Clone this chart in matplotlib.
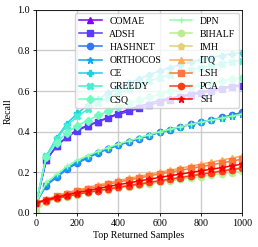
import numpy as np
import matplotlib.pyplot as plt

plt.rcParams['font.family'] = ['Liberation Serif', 'DejaVu Serif']

x = [1, 50, 100, 150, 200, 250, 300, 350, 400, 450, 500,
     550, 600, 650, 700, 750, 800, 850, 900, 950, 1000]

methods = ['COMAE', 'ADSH', 'HASHNET', 'ORTHOCOS', 'CE', 'GREEDY', 'CSQ',
           'DPN', 'BIHALF', 'IMH', 'ITQ', 'LSH', 'PCA', 'SH']
markers = ['^', 's', 'o', '*', 'P', 'X', 'D', '+', 'o', 'p', '^', 's', 'o', '*']

comae = [0.05, 0.26, 0.33, 0.375, 0.41, 0.43, 0.45, 0.47, 0.49, 0.51, 0.525,
         0.54, 0.555, 0.565, 0.575, 0.585, 0.595, 0.605, 0.615, 0.625, 0.63]
adsh = [0.05, 0.26, 0.33, 0.372, 0.405, 0.428, 0.448, 0.468, 0.485, 0.50, 0.515,
        0.53, 0.545, 0.558, 0.57, 0.58, 0.59, 0.60, 0.61, 0.62, 0.625]
hashnet = [0.05, 0.135, 0.175, 0.215, 0.245, 0.27, 0.295, 0.315, 0.333, 0.35, 0.365,
           0.38, 0.398, 0.41, 0.425, 0.436, 0.447, 0.458, 0.47, 0.482, 0.495]
orthocos = [0.05, 0.14, 0.18, 0.22, 0.25, 0.275, 0.298, 0.318, 0.336, 0.352, 0.367,
            0.382, 0.398, 0.41, 0.424, 0.435, 0.446, 0.457, 0.468, 0.478, 0.488]
ce = [0.05, 0.28, 0.37, 0.44, 0.49, 0.53, 0.56, 0.59, 0.615, 0.64, 0.66,
      0.68, 0.70, 0.715, 0.73, 0.745, 0.755, 0.765, 0.775, 0.785, 0.79]
greedy = [0.05, 0.28, 0.365, 0.43, 0.475, 0.51, 0.54, 0.565, 0.59, 0.61, 0.63,
          0.65, 0.665, 0.68, 0.695, 0.705, 0.715, 0.725, 0.735, 0.745, 0.75]
csq = [0.05, 0.275, 0.345, 0.395, 0.43, 0.455, 0.48, 0.50, 0.52, 0.54, 0.555,
       0.57, 0.585, 0.60, 0.61, 0.62, 0.63, 0.64, 0.65, 0.66, 0.665]
dpn = [0.05, 0.15, 0.19, 0.23, 0.26, 0.282, 0.303, 0.322, 0.34, 0.355, 0.37,
       0.385, 0.4, 0.412, 0.425, 0.436, 0.447, 0.457, 0.467, 0.477, 0.487]
bihalf = [0.01, 0.055, 0.07, 0.08, 0.09, 0.10, 0.108, 0.115, 0.122, 0.13, 0.137,
          0.144, 0.151, 0.158, 0.165, 0.172, 0.179, 0.186, 0.193, 0.199, 0.205]
imh = [0.05, 0.06, 0.072, 0.083, 0.093, 0.103, 0.112, 0.12, 0.128, 0.136, 0.144,
       0.152, 0.16, 0.168, 0.176, 0.184, 0.192, 0.2, 0.208, 0.216, 0.225]
itq = [0.05, 0.068, 0.085, 0.1, 0.113, 0.125, 0.137, 0.148, 0.16, 0.17, 0.18,
       0.19, 0.2, 0.21, 0.22, 0.23, 0.24, 0.25, 0.26, 0.27, 0.28]
lsh = [0.05, 0.065, 0.081, 0.095, 0.107, 0.119, 0.13, 0.141, 0.152, 0.162, 0.172,
       0.182, 0.192, 0.201, 0.21, 0.219, 0.228, 0.237, 0.246, 0.255, 0.265]
pca = [0.05, 0.06, 0.072, 0.082, 0.092, 0.101, 0.11, 0.118, 0.126, 0.134, 0.142,
       0.15, 0.158, 0.166, 0.174, 0.182, 0.19, 0.198, 0.206, 0.213, 0.22]
sh = [0.05, 0.064, 0.077, 0.089, 0.1, 0.11, 0.12, 0.13, 0.139, 0.148, 0.157,
      0.166, 0.175, 0.183, 0.191, 0.199, 0.207, 0.215, 0.223, 0.232, 0.24]

series = [comae, adsh, hashnet, orthocos, ce, greedy, csq,
          dpn, bihalf, imh, itq, lsh, pca, sh]
colors = plt.cm.rainbow(np.linspace(0, 1, len(methods)))

fig = plt.figure(figsize=(2.58, 2.47), dpi=100)
ax = fig.add_axes([0.1395, 0.138, 0.799, 0.822])

for name, y, m, c in zip(methods, series, markers, colors):
    ax.plot(x, y, marker=m, color=c, label=name, linewidth=1.1, markersize=4.5)

ax.set_xlim(0, 1000)
ax.set_ylim(0, 1.0)
ax.set_xticks([0, 200, 400, 600, 800, 1000])
ax.set_yticks([0.0, 0.2, 0.4, 0.6, 0.8, 1.0])
ax.grid(True, color='#cccccc', linewidth=1)
ax.set_axisbelow(True)
ax.tick_params(labelsize=7.2, length=2.5, width=0.6, pad=2)
ax.set_xlabel('Top Returned Samples', fontsize=7.2, labelpad=2)
ax.set_ylabel('Recall', fontsize=7.2, labelpad=3)
for s in ax.spines.values():
    s.set_linewidth(0.6)

ax.legend(ncol=2, loc='upper right', fontsize=7, frameon=True,
          handlelength=2.3, columnspacing=0.9, labelspacing=0.42,
          handletextpad=0.8, borderaxespad=0.3, markerscale=1)

fig.savefig('out.png', dpi=100)
